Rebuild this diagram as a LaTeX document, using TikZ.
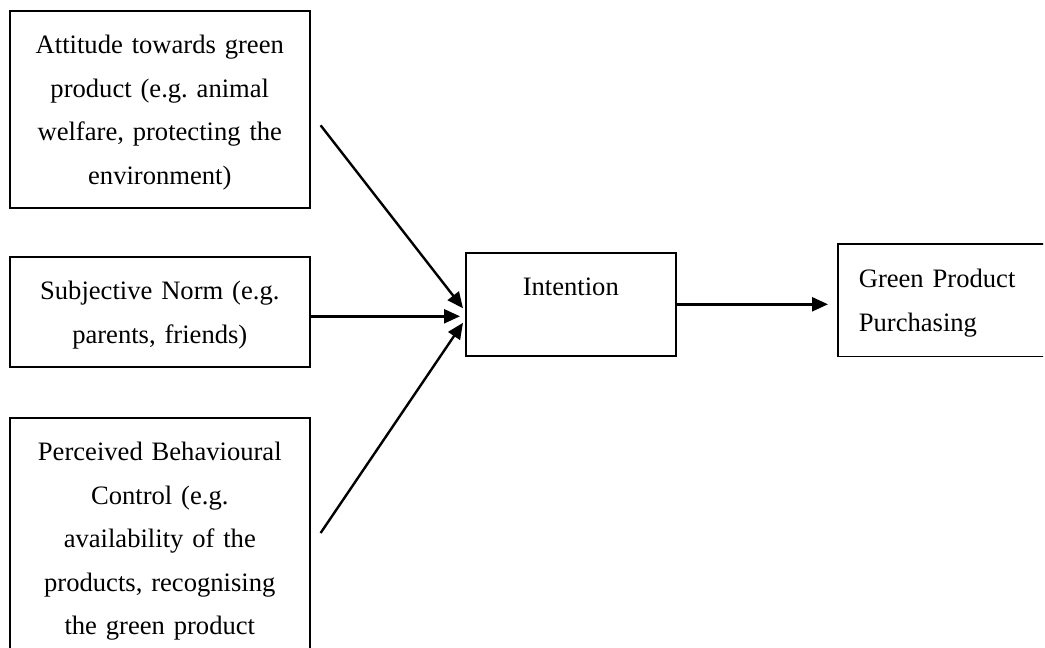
\documentclass[tikz,border=0pt]{standalone}
\usepackage{fontspec}
\setmainfont{Liberation Serif}
\frenchspacing
\usetikzlibrary{arrows.meta}

\tikzset{
  box/.style={draw, line width=0.8pt, anchor=north west, inner xsep=0pt,
    inner ysep=0pt, align=center, text height=21.5pt,
    font=\fontsize{13.3}{21.7}\selectfont},
  link/.style={line width=1.2pt, -{Triangle[length=8pt,width=7pt]}}
}

\begin{document}
\begin{tikzpicture}[x=0.5pt,y=-0.5pt]
    \useasboundingbox (0,0) rectangle (1045,648);
    \clip (0,0) rectangle (1043,648);

    % Predictors
    \node[box, text width=150pt, text depth=77pt] (attitude) at (9,10)
      {Attitude towards green\\product (e.g. animal\\welfare, protecting the\\environment)};
    \node[box, text width=150pt, text depth=33.5pt] (norm) at (9,256)
      {Subjective Norm (e.g.\\parents, friends)};
    \node[box, text width=150pt, text depth=120pt] (control) at (9,417)
      {Perceived Behavioural\\Control (e.g.\\availability of the\\products, recognising\\the green product};

    % Intention and behaviour
    \node[box, text width=105pt, text depth=30pt] (intention) at (465,252) {Intention};
    \node[box, draw=none, align=left, inner xsep=10pt, text width=130pt, text depth=34pt] (purchase) at (838,244)
      {Green Product\\Purchasing};
    \draw[line width=0.8pt] ([xshift=20pt]purchase.north east) -- (purchase.north west)
      -- (purchase.south west) -- ([xshift=20pt]purchase.south east);

    % Arrows
    \coordinate (tipA) at ([xshift=-1pt,yshift=-2pt]intention.west);
    \coordinate (tipN) at ([xshift=-2.5pt,yshift=-6pt]intention.west);
    \coordinate (tipC) at ([xshift=-1pt,yshift=-9.25pt]intention.west);
    \draw[link] ([xshift=5pt,yshift=-8pt]attitude.east) -- (tipA);
    \draw[link] (norm.east |- tipN) -- (tipN);
    \draw[link] ([xshift=5pt,yshift=-58pt]control.north east) -- (tipC);
    \draw[link] (intention.east) -- ([xshift=-5pt]intention.east -| purchase.west);
  \end{tikzpicture}
\end{document}
